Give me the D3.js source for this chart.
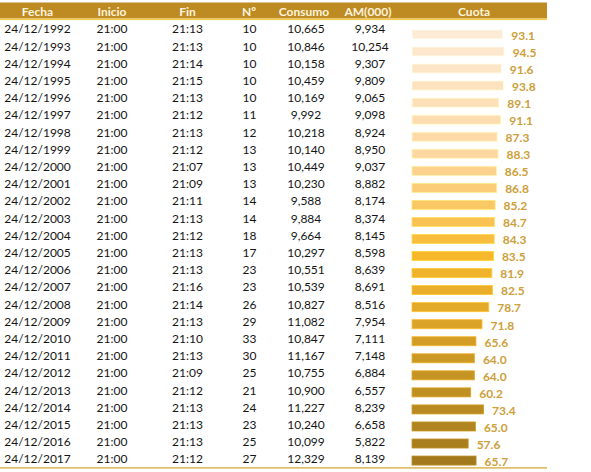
<!DOCTYPE html>
<html>
<head>
<meta charset="utf-8">
<script src="https://cdn.jsdelivr.net/npm/d3@7"></script>
<style>
  body { margin: 0; background: #fff; }
  text { font-family: Lato, "Open Sans", sans-serif; }
</style>
</head>
<body>
<svg></svg>
<script>
const years = [1992,1993,1994,1995,1996,1997,1998,1999,2000,2001,2002,2003,2004,
               2005,2006,2007,2008,2009,2010,2011,2012,2013,2014,2015,2016,2017];
const inicio = years.map(() => "21:00");
const fin = ["21:13","21:13","21:14","21:15","21:13","21:12","21:13","21:12","21:07","21:09",
             "21:11","21:13","21:12","21:13","21:13","21:16","21:14","21:13","21:10","21:13",
             "21:09","21:12","21:13","21:13","21:13","21:12"];
const numero = [10,10,10,10,10,11,12,13,13,13,14,14,18,17,23,23,26,29,33,30,25,21,24,23,25,27];
const consumo = [10665,10846,10158,10459,10169,9992,10218,10140,10449,10230,9588,9884,9664,
                 10297,10551,10539,10827,11082,10847,11167,10755,10900,11227,10240,10099,12329];
const audiencia = [9934,10254,9307,9809,9065,9098,8924,8950,9037,8882,8174,8374,8145,
                   8598,8639,8691,8516,7954,7111,7148,6884,6557,8239,6658,5822,8139];
const cuota = [93.1,94.5,91.6,93.8,89.1,91.1,87.3,88.3,86.5,86.8,85.2,84.7,84.3,
               83.5,81.9,82.5,78.7,71.8,65.6,64.0,64.0,60.2,73.4,65.0,57.6,65.7];
const headers = ["Fecha","Inicio","Fin","Nº","Consumo","AM(000)","Cuota"];

const w = 591;
const h = 472;

const svg = d3.select("svg")
              .attr("width", w)
              .attr("height", h);

const fmt = d3.format(",");

// header band
svg.append("rect")
   .attr("x", 0).attr("y", 2.5)
   .attr("width", 547).attr("height", 16)
   .attr("fill", "#BD8B22");
svg.append("rect")
   .attr("x", 0).attr("y", 18.5)
   .attr("width", 547).attr("height", 1.6)
   .attr("fill", "#F3C94E");

const headerX = [37.5, 112, 187.5, 249, 304, 368, 474];
svg.selectAll("text.head")
   .data(headers)
   .enter()
   .append("text")
   .attr("class", "head")
   .attr("x", (d, i) => headerX[i])
   .attr("y", 15.5)
   .attr("text-anchor", "middle")
   .attr("fill", "#FFF4DE")
   .attr("font-size", "12px")
   .attr("font-weight", "bold")
   .text(d => d);

// table rows
const rowY = d3.scalePoint()
               .domain(years)
               .range([29, 459]);

const columns = [
  {x: 37.5, values: years.map(y => "24/12/" + y)},
  {x: 112, values: inicio},
  {x: 187.5, values: fin},
  {x: 249.5, values: numero.map(String)},
  {x: 306, values: consumo.map(fmt)},
  {x: 370, values: audiencia.map(fmt)}
];

columns.forEach((col, c) => {
  svg.append("g")
     .selectAll("text")
     .data(col.values)
     .enter()
     .append("text")
     .attr("x", col.x)
     .attr("y", (d, i) => rowY(years[i]))
     .attr("dy", "0.36em")
     .attr("text-anchor", "middle")
     .attr("fill", "#151515")
     .attr("font-size", "12px")
     .text(d => d);
});

// Cuota bars
const xScale = d3.scaleLinear()
                 .domain([0, 100])
                 .range([412, 509.5]);

const barY = d3.scaleBand()
               .domain(years)
               .range([26, 469])
               .paddingInner(0.47)
               .paddingOuter(0.23);

const color = d3.scaleLinear()
                .domain([0, 7, 13, 25])
                .range(["#FDEBD6", "#FDD7A0", "#F8B82C", "#A27A1D"]);

svg.append("g")
   .selectAll("rect")
   .data(cuota)
   .enter()
   .append("rect")
   .attr("x", xScale(0))
   .attr("y", (d, i) => barY(years[i]))
   .attr("width", d => xScale(d) - xScale(0))
   .attr("height", barY.bandwidth())
   .attr("fill", (d, i) => color(i))
   .attr("stroke", (d, i) => d3.color(color(i)).brighter(0.4))
   .attr("stroke-width", 0.8);

svg.append("g")
   .selectAll("text")
   .data(cuota)
   .enter()
   .append("text")
   .attr("x", d => xScale(d) + 8.5)
   .attr("y", (d, i) => barY(years[i]) + barY.bandwidth() / 2 + 1)
   .attr("dy", "0.36em")
   .attr("fill", "#CDA03A")
   .attr("font-size", "12px")
   .attr("font-weight", "bold")
   .text(d => d.toFixed(1));

// bottom rule and clipped footnote
svg.append("rect")
   .attr("x", 0).attr("y", 467.2)
   .attr("width", 547).attr("height", 1.4)
   .attr("fill", "#D9AE48");

svg.append("text")
   .attr("x", 4)
   .attr("y", 479)
   .attr("fill", "#444")
   .attr("font-size", "10px")
   .text("* Final 2017: incluye el consumo de la final de la retransmisión");
</script>
</body>
</html>
